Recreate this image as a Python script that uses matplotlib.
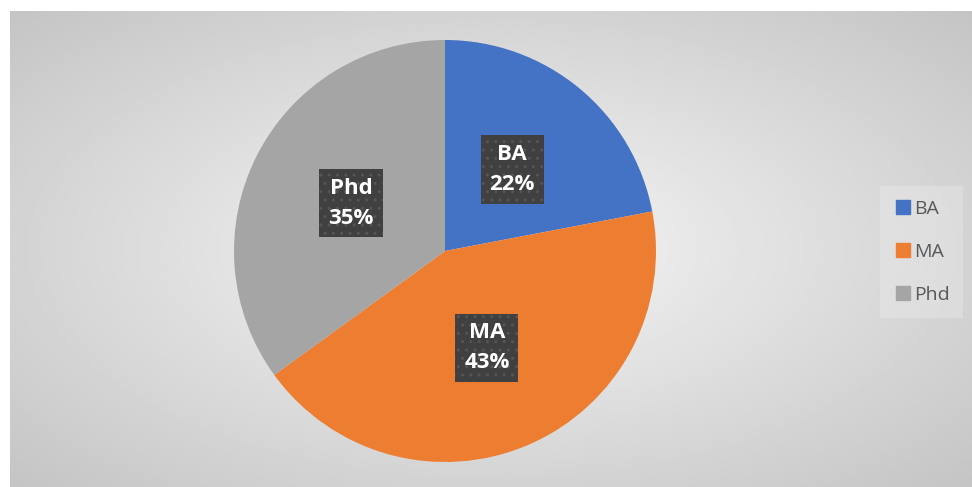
import numpy as np
import matplotlib
matplotlib.use("Agg")
import matplotlib.pyplot as plt
from matplotlib.lines import Line2D

# Datos del grafico
categorias = ["BA", "MA", "Phd"]
porcentajes = [22, 43, 35]
colores = ["#4472C4", "#ED7D31", "#A5A5A5"]

W, H = 972, 487
fig = plt.figure(figsize=(W / 100, H / 100), dpi=100)
fig.patch.set_facecolor("white")

# Fondo con degradado radial (area del grafico)
x0, y0, x1, y1 = 10, 0, 972, 476
ax_bg = fig.add_axes([x0 / W, y0 / H, (x1 - x0) / W, (y1 - y0) / H])
ny, nx = 200, 400
yy, xx = np.mgrid[-1:1:ny * 1j, -1:1:nx * 1j]
d = np.sqrt(xx ** 2 + yy ** 2) / np.sqrt(2)
fondo = 0.965 - (0.965 - 0.77) * d
ax_bg.imshow(fondo, cmap="gray", vmin=0, vmax=1, aspect="auto",
             extent=[0, 1, 0, 1], interpolation="bilinear")
ax_bg.set_axis_off()

# Pastel: centro (445, 251) px, radio ~211 px
cx, cy, r = 445, 251, 211
ax = fig.add_axes([(cx - r) / W, (H - cy - r) / H, 2 * r / W, 2 * r / H])
wedges, _ = ax.pie(porcentajes, colors=colores, startangle=90, counterclock=False,
                   wedgeprops=dict(linewidth=0))
ax.set_aspect("equal")
ax.set_xlim(-1, 1)
ax.set_ylim(-1, 1)

# Etiquetas con caja oscura
for w, nombre, p in zip(wedges, categorias, porcentajes):
    ang = np.deg2rad((w.theta1 + w.theta2) / 2)
    tx, ty = 0.5 * np.cos(ang), 0.5 * np.sin(ang)
    ax.text(tx, ty, f"{nombre}\n{p}%", ha="center", va="center",
            color="white", fontsize=16, fontweight="bold", family="Open Sans",
            linespacing=1.55,
            bbox=dict(boxstyle="square,pad=0.4", facecolor="#404040",
                      edgecolor="#555555", linewidth=0, hatch=".."))

# Leyenda
handles = [Line2D([], [], marker="s", linestyle="none", markersize=10,
                  markerfacecolor=c, markeredgecolor=c) for c in colores]
leg = fig.legend(handles, categorias, loc="center left",
                 bbox_to_anchor=(880 / W, (H - 252) / H), frameon=True,
                 fontsize=14, labelspacing=1.3, handletextpad=0.05,
                 borderpad=0.7, handlelength=1.0, borderaxespad=0)
leg.get_frame().set_facecolor("#e9e9e9")
leg.get_frame().set_alpha(0.45)
leg.get_frame().set_edgecolor("none")
leg.get_frame().set_boxstyle("square", pad=0)
for t in leg.get_texts():
    t.set_color("#595959")
    t.set_family("Open Sans")

fig.savefig("out.png", dpi=100)
